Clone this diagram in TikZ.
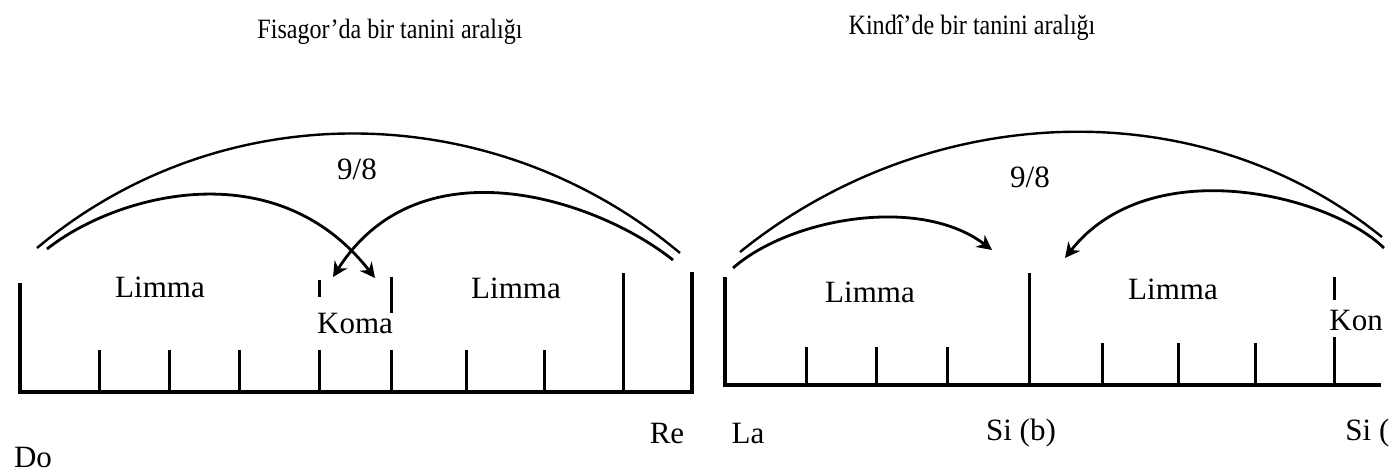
\documentclass[tikz,border=0pt]{standalone}
\usepackage{fontspec}
\setmainfont{Liberation Serif}
\newfontfamily\titlefont[FakeStretch=0.86]{Liberation Serif}
\usetikzlibrary{arrows.meta}

\begin{document}
\begin{tikzpicture}[
  x=0.5pt,y=-0.5pt,
  lbl/.style={font=\fontsize{15.5}{17}\selectfont,inner sep=0pt},
  ttl/.style={font=\titlefont\fontsize{14}{16}\selectfont,inner sep=0pt},
  tk/.style={line width=1.5pt},
  baseln/.style={line width=1.6pt},
  bigarc/.style={line width=1.2pt},
  arr/.style={line width=1.4pt,-{Stealth[length=7.5pt,width=7.5pt]}},
]
\useasboundingbox (0,0) rectangle (1397,472);

% ---- titles ----
\node[ttl] (titleF) at (390,32) {Fisagor’da bir tanini aralığı};
\node[ttl] (titleK) at (972,28) {Kindî’de bir tanini aralığı};

% ---- Fisagor: ruler Do -- Re ----
\draw[baseln] (20,283) -- (20,392) -- (692,392) -- (692,272);
\draw[tk] (99,392) -- (99,350);
\draw[tk] (169,392) -- (169,350);
\draw[tk] (239,392) -- (239,350);
\draw[tk] (319,392) -- (319,350);
\draw[tk] (391,392) -- (391,350);
\draw[tk] (466,392) -- (466,350);
\draw[tk] (544,392) -- (544,350);
\draw[tk] (623,392) -- (623,273);
\draw[tk] (319,280) -- (319,297);
\draw[tk] (391,277) -- (391,313);

\node[lbl] (limmaF1) at (160,287) {Limma};
\node[lbl] (komaF) at (355,323) {Koma};
\node[lbl] (limmaF2) at (516,288) {Limma};
\node[lbl] (ratioF) at (357,169) {9/8};

\node[lbl] (do) at (33,457) {Do};
\node[lbl] (re) at (667,433) {Re};

\coordinate (doTop) at (37,248);
\coordinate (doArr) at (47,249);
\coordinate (reTop) at (680,253);
\coordinate (reArr) at (673,260);
\coordinate (komaL) at (333,277);
\coordinate (komaR) at (375,278);

\draw[bigarc] (doTop) .. controls (223,92) and (494,97) .. (reTop);
\draw[arr] (doArr) .. controls (115,195) and (275,150) .. (komaR);
\draw[arr] (reArr) .. controls (598,200) and (420,140) .. (komaL);

% ---- Kindi: ruler La -- Si ----
\draw[baseln] (725,277) -- (725,385) -- (1381,385);
\draw[tk] (806,385) -- (806,347);
\draw[tk] (876,385) -- (876,347);
\draw[tk] (947,385) -- (947,347);
\draw[tk] (1029,385) -- (1029,273);
\draw[tk] (1102,385) -- (1102,343);
\draw[tk] (1178,385) -- (1178,343);
\draw[tk] (1255,385) -- (1255,343);
\draw[tk] (1334,385) -- (1334,337);
\draw[tk] (1334,277) -- (1334,300);

\node[lbl] (limmaK1) at (870,292) {Limma};
\node[lbl] (limmaK2) at (1173,289) {Limma};
\node[lbl,anchor=west] (komaK) at (1329,320) {Kon};
\node[lbl] (ratioK) at (1030,177) {9/8};

\node[lbl] (la) at (748,433) {La};
\node[lbl] (sib) at (1021,433) {Si (b)};
\node[lbl,anchor=west] (sis) at (1345,433) {Si (};

\coordinate (laTop) at (740,252);
\coordinate (laArr) at (733,268);
\coordinate (siTop) at (1382,237);
\coordinate (siArr) at (1384,248);
\coordinate (sibL) at (992,250);
\coordinate (sibR) at (1065,258);

\draw[bigarc] (laTop) .. controls (926,102) and (1196,87) .. (siTop);
\draw[arr] (laArr) .. controls (790,218) and (920,195) .. (sibL);
\draw[arr] (siArr) .. controls (1330,195) and (1150,150) .. (sibR);
\end{tikzpicture}
\end{document}
